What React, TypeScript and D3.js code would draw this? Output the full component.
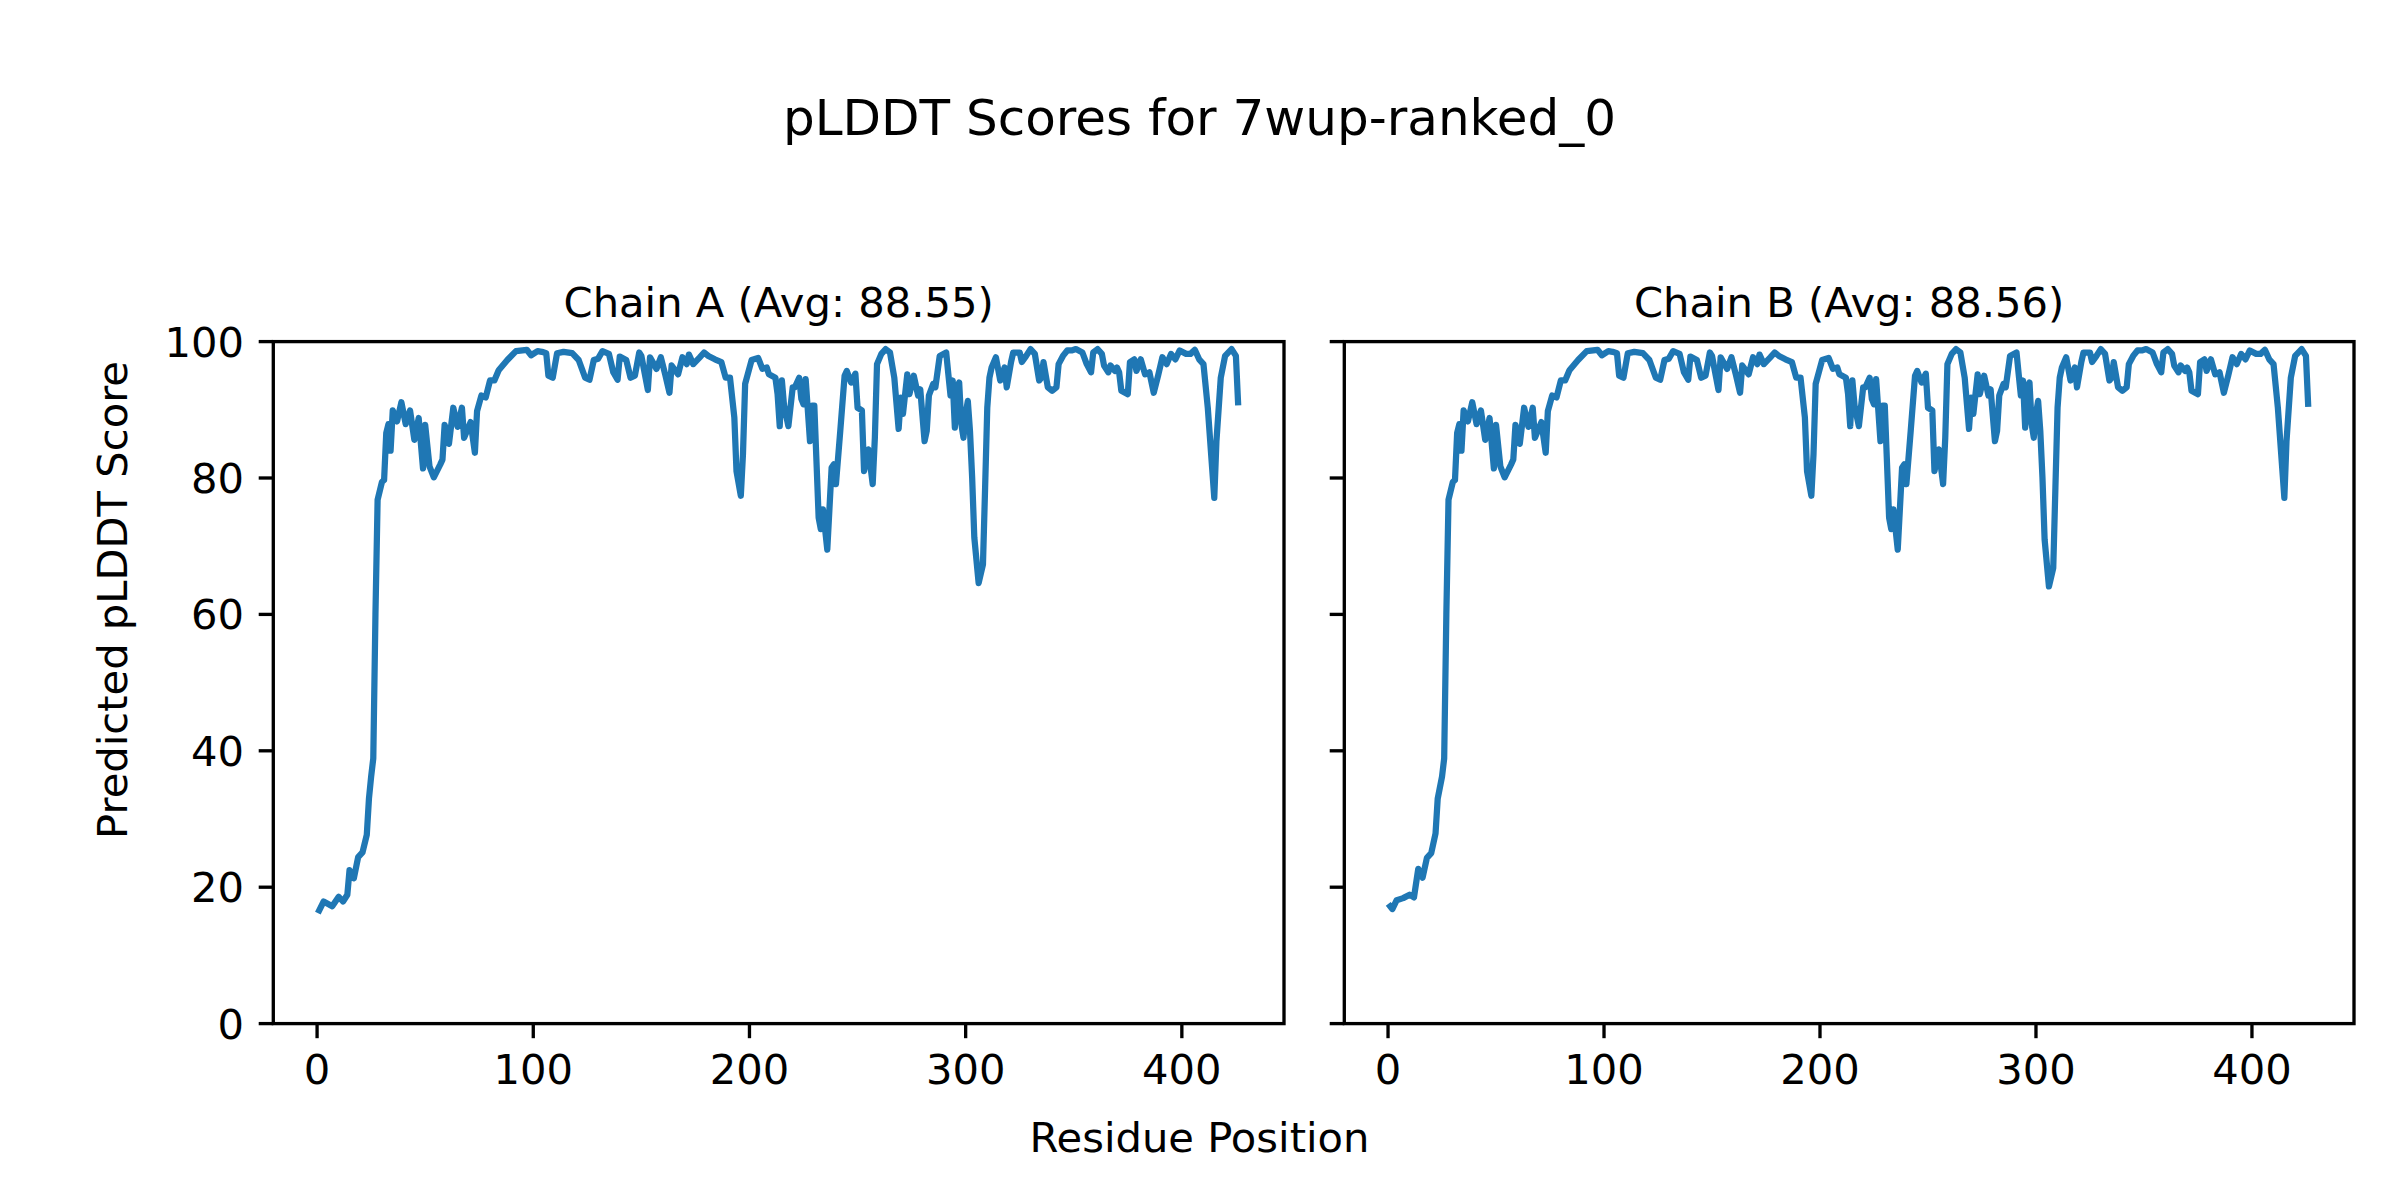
import React from 'react';
import * as d3 from 'd3';

// ---- data ----
const residuesA = [1,3,7,10,12,14,15,17,19,21,23,24,25,26,27,28,30,31,32,33,34,35,37,39,41,43,45,47,49,50,52,54,57,58,59,61,63,65,67,68,71,73,74,76,78,80,82,84,88,92,97,99,102,104,106,107,109,111,114,118,121,124,126,128,130,132,135,137,139,140,143,145,147,149,150,153,154,157,159,161,163,164,167,169,171,172,174,177,179,181,184,187,189,191,193,194,196,197,198,201,204,206,208,209,212,213,214,215,216,218,220,221,223,224,225,226,228,229,230,232,233,234,236,238,239,240,242,244,245,247,249,250,252,253,255,257,258,259,261,263,265,267,269,270,271,273,274,276,278,279,281,282,283,285,286,288,291,292,293,294,295,296,297,298,299,300,301,302,303,304,306,308,309,310,311,312,314,316,318,319,321,322,325,326,328,330,332,334,335,336,338,340,342,343,345,347,349,351,354,356,358,359,361,363,364,366,367,369,370,371,372,375,376,378,379,381,383,385,387,389,391,393,395,397,399,402,404,406,408,410,412,414,415,416,418,420,423,425,426];
const scoresA = [16.6,17.9,17.2,18.6,17.9,18.9,22.5,21.3,24.4,25.1,27.7,33.0,36.2,38.9,60.0,76.8,79.4,79.7,86.6,87.9,84.0,89.9,88.3,91.1,87.9,89.9,85.6,88.8,81.4,87.8,81.7,80.1,82.0,82.7,87.8,85.0,90.3,87.5,90.3,85.9,88.2,83.7,89.8,92.1,91.8,94.3,94.3,95.8,97.3,98.6,98.8,98.0,98.6,98.5,98.3,95.0,94.7,98.3,98.5,98.3,97.3,94.7,94.4,97.3,97.5,98.6,98.2,95.5,94.4,97.8,97.3,94.7,95.0,98.4,97.9,92.9,97.7,96.0,97.7,95.2,92.5,96.5,95.2,97.7,96.7,98.1,96.7,97.7,98.4,97.9,97.4,97.0,94.7,94.7,88.9,81.0,77.4,83.5,93.8,97.3,97.6,96.0,96.2,95.2,94.7,92.3,87.6,94.3,90.6,87.6,93.3,93.3,94.7,91.6,90.8,94.5,85.4,90.6,90.6,74.2,72.5,75.4,69.5,81.5,82.0,79.1,86.9,95.0,95.7,94.0,95.3,90.3,89.9,81.0,84.2,79.1,85.9,96.7,98.2,98.9,98.4,94.7,87.2,91.8,89.4,95.2,92.3,95.0,92.1,93.0,85.4,86.9,92.1,93.8,93.3,97.9,98.4,95.2,92.1,94.3,87.4,93.3,94.0,87.9,85.9,89.4,91.3,86.9,80.1,71.3,64.6,67.3,78.6,90.3,94.7,96.2,97.7,94.3,96.2,93.3,97.0,98.4,98.4,97.0,97.9,98.9,98.2,94.3,94.7,97.0,93.3,92.8,93.3,96.7,97.9,98.7,98.7,98.9,98.4,96.7,95.5,98.4,98.9,98.2,96.5,95.5,96.5,95.7,96.2,95.5,92.8,92.3,97.0,97.4,95.7,97.4,95.2,95.5,92.5,95.0,97.7,96.7,98.2,97.4,98.7,98.2,98.2,98.8,97.4,96.7,90.3,81.5,77.1,85.4,94.7,97.9,98.9,97.9,91.1];

const residuesB = [1,2,4,7,10,12,14,16,18,20,22,23,25,26,27,28,30,31,32,33,34,35,37,39,41,43,45,47,49,50,52,54,57,58,59,61,63,65,67,68,71,73,74,76,78,80,82,84,88,92,97,99,102,104,106,107,109,111,114,118,121,124,126,128,130,132,135,137,139,140,143,145,147,149,150,153,154,157,159,161,163,164,167,169,171,172,174,177,179,181,184,187,189,191,193,194,196,197,198,201,204,206,208,209,212,213,214,215,216,218,220,221,223,224,225,226,228,229,230,232,233,234,236,238,239,240,242,244,245,247,249,250,252,253,255,257,258,259,261,263,265,267,269,270,271,273,274,276,278,279,281,282,283,285,286,288,291,292,293,294,295,296,297,298,299,300,301,302,303,304,306,308,309,310,311,312,314,316,318,319,321,322,325,326,328,330,332,334,335,336,338,340,342,343,345,347,349,351,354,356,358,359,361,363,364,366,367,369,370,371,372,375,376,378,379,381,383,385,387,389,391,393,395,397,399,402,404,406,408,410,412,414,415,416,418,420,423,425,426];
const scoresB = [17.2,16.8,18.1,18.4,18.9,18.5,22.7,21.4,24.3,25.0,27.9,33.0,36.2,38.9,60.0,76.8,79.4,79.7,86.6,87.9,84.0,89.9,88.3,91.1,87.9,89.9,85.6,88.8,81.4,87.8,81.7,80.1,82.0,82.7,87.8,85.0,90.3,87.5,90.3,85.9,88.2,83.7,89.8,92.1,91.8,94.3,94.3,95.8,97.3,98.6,98.8,98.0,98.6,98.5,98.3,95.0,94.7,98.3,98.5,98.3,97.3,94.7,94.4,97.3,97.5,98.6,98.2,95.5,94.4,97.8,97.3,94.7,95.0,98.4,97.9,92.9,97.7,96.0,97.7,95.2,92.5,96.5,95.2,97.7,96.7,98.1,96.7,97.7,98.4,97.9,97.4,97.0,94.7,94.7,88.9,81.0,77.4,83.5,93.8,97.3,97.6,96.0,96.2,95.2,94.7,92.3,87.6,94.3,90.6,87.6,93.3,93.3,94.7,91.6,90.8,94.5,85.4,90.6,90.6,74.2,72.5,75.4,69.5,81.5,82.0,79.1,86.9,95.0,95.7,94.0,95.3,90.3,89.9,81.0,84.2,79.1,85.9,96.7,98.2,98.9,98.4,94.7,87.2,91.8,89.4,95.2,92.3,95.0,92.1,93.0,85.4,86.9,92.1,93.8,93.3,97.9,98.4,95.2,92.1,94.3,87.4,93.3,94.0,87.9,85.9,89.4,91.3,86.9,80.1,71.0,64.1,66.8,78.6,90.3,94.7,96.2,97.7,94.3,96.2,93.3,97.0,98.4,98.4,97.0,97.9,98.9,98.2,94.3,94.7,97.0,93.3,92.8,93.3,96.7,97.9,98.7,98.7,98.9,98.4,96.7,95.5,98.4,98.9,98.2,96.5,95.5,96.5,95.7,96.2,95.5,92.8,92.3,97.0,97.4,95.7,97.4,95.2,95.5,92.5,95.0,97.7,96.7,98.2,97.4,98.7,98.2,98.2,98.8,97.4,96.7,90.3,81.5,77.1,85.4,94.7,97.9,98.9,97.9,90.9];

const xTicks = [0, 100, 200, 300, 400];
const yTicks = [0, 20, 40, 60, 80, 100];
const chainTitles = ['Chain A (Avg: 88.55)', 'Chain B (Avg: 88.56)'];
const figTitle = 'pLDDT Scores for 7wup-ranked_0';
const xLabel = 'Residue Position';
const yLabel = 'Predicted pLDDT Score';

// ---- layout ----
const W = 2400;
const H = 1200;
const FONT = "'DejaVu Sans', 'Liberation Sans', sans-serif";
const LINE_COLOR = '#1f77b4';
const TOP = 341.6;
const BOTTOM = 1023.6;
const TICK = 14.6;
const SPINE_W = 3.33;
const panelBoxes = [
  { left: 273.3, right: 1284 },
  { left: 1344.3, right: 2354 },
];

type PanelProps = {
  left: number;
  right: number;
  residues: number[];
  scores: number[];
  title: string;
  showYLabels: boolean;
};

function Panel({ left, right, residues, scores, title, showYLabels }: PanelProps) {
  const [lo, hi] = d3.extent(residues) as [number, number];
  const span = hi - lo;
  const x = d3.scaleLinear().domain([lo - 0.05 * span, hi + 0.05 * span]).range([left, right]);
  const y = d3.scaleLinear().domain([0, 100]).range([BOTTOM, TOP]);
  const line = d3
    .line<number>()
    .x((_, i) => x(residues[i]))
    .y((d) => y(d));
  const path = line(scores) || '';
  return (
    <g>
      <path
        d={path}
        fill="none"
        stroke={LINE_COLOR}
        strokeWidth={6.25}
        strokeLinejoin="round"
        strokeLinecap="square"
      />
      <rect
        x={left}
        y={TOP}
        width={right - left}
        height={BOTTOM - TOP}
        fill="none"
        stroke="#000"
        strokeWidth={SPINE_W}
      />
      {xTicks.map((t) => (
        <g key={'x' + t}>
          <line x1={x(t)} x2={x(t)} y1={BOTTOM} y2={BOTTOM + TICK} stroke="#000" strokeWidth={SPINE_W} />
          <text x={x(t)} y={1083.5} textAnchor="middle" fontSize={41.67} fontFamily={FONT} fill="#000">
            {t}
          </text>
        </g>
      ))}
      {yTicks.map((t) => (
        <g key={'y' + t}>
          <line x1={left - TICK} x2={left} y1={y(t)} y2={y(t)} stroke="#000" strokeWidth={SPINE_W} />
          {showYLabels && (
            <text
              x={left - TICK - 14.6}
              y={y(t) + 15}
              textAnchor="end"
              fontSize={41.67}
              fontFamily={FONT}
              fill="#000"
            >
              {t}
            </text>
          )}
        </g>
      ))}
      <text
        x={(left + right) / 2}
        y={316.5}
        textAnchor="middle"
        fontSize={41.67}
        fontFamily={FONT}
        fill="#000"
      >
        {title}
      </text>
    </g>
  );
}

export default function App() {
  const series = [
    { residues: residuesA, scores: scoresA },
    { residues: residuesB, scores: scoresB },
  ];
  return (
    <svg
      width={W}
      height={H}
      viewBox={`0 0 ${W} ${H}`}
      style={{ position: 'absolute', left: 0, top: 0, display: 'block' }}
    >
      <rect x={0} y={0} width={W} height={H} fill="#fff" />
      <text x={1199.5} y={135} textAnchor="middle" fontSize={50} fontFamily={FONT} fill="#000">
        {figTitle}
      </text>
      {panelBoxes.map((b, i) => (
        <Panel
          key={i}
          left={b.left}
          right={b.right}
          residues={series[i].residues}
          scores={series[i].scores}
          title={chainTitles[i]}
          showYLabels={i === 0}
        />
      ))}
      <text x={1199.5} y={1151.7} textAnchor="middle" fontSize={41.67} fontFamily={FONT} fill="#000">
        {xLabel}
      </text>
      <text
        transform={`translate(127, 600) rotate(-90)`}
        textAnchor="middle"
        fontSize={41.67}
        fontFamily={FONT}
        fill="#000"
      >
        {yLabel}
      </text>
    </svg>
  );
}
